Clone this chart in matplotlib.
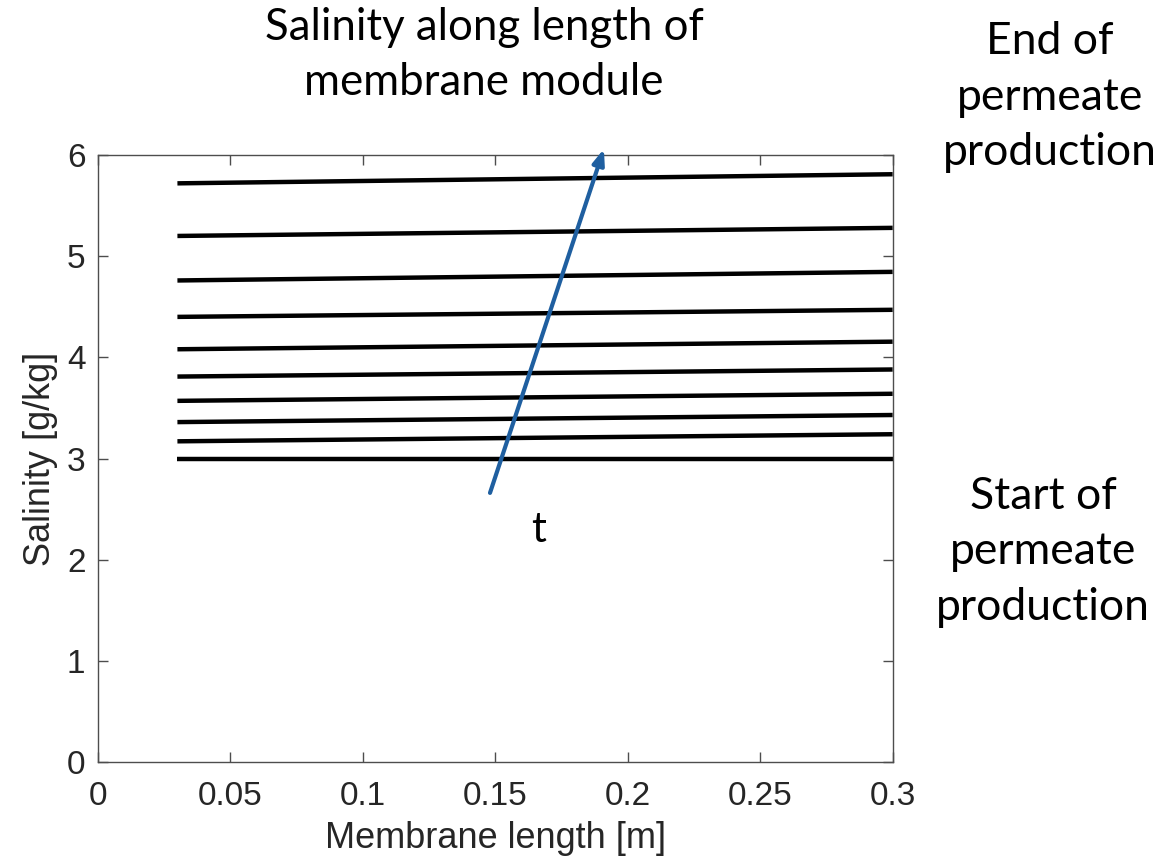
import matplotlib
matplotlib.use("Agg")
import matplotlib.pyplot as plt

# Data: salinity at start (x=0.03) and end (x=0.3) of each line
x_positions = [0.03, 0.3]
sal_start = [3.00, 3.17, 3.36, 3.57, 3.81, 4.08, 4.40, 4.76, 5.20, 5.72]
sal_end   = [3.00, 3.24, 3.43, 3.64, 3.88, 4.155, 4.47, 4.845, 5.28, 5.81]
xticks = [0, 0.05, 0.1, 0.15, 0.2, 0.25, 0.3]
xtick_labels = ["0", "0.05", "0.1", "0.15", "0.2", "0.25", "0.3"]
yticks = [0, 1, 2, 3, 4, 5, 6]
arrow_tail = (0.148, 2.66)
arrow_head = (0.191, 6.06)

fig = plt.figure(figsize=(11.73, 8.67), dpi=100)
ax = fig.add_axes([0.0835, 0.1211, 0.6775, 0.7001])

for s0, s1 in zip(sal_start, sal_end):
    ax.plot(x_positions, [s0, s1], color="black", lw=3.2, solid_capstyle="butt")

ax.set_xlim(0, 0.3)
ax.set_ylim(0, 6)
ax.set_xticks(xticks)
ax.set_xticklabels(xtick_labels)
ax.set_yticks(yticks)
axcol = "#4d4d4d"
for sp in ax.spines.values():
    sp.set_color(axcol)
    sp.set_linewidth(1.0)
ax.tick_params(direction="in", top=True, right=True, length=7, width=1.0,
               colors=axcol, labelcolor="#262626", labelsize=24)
ax.tick_params(axis="x", pad=14)
ax.tick_params(axis="y", pad=9)
for lab in ax.get_xticklabels() + ax.get_yticklabels():
    lab.set_family("Liberation Sans")
ax.set_xlabel("Membrane length [m]", fontsize=26, family="Liberation Sans",
              color="#262626", labelpad=6)
ax.set_ylabel("Salinity [g/kg]", fontsize=26, family="Liberation Sans",
              color="#262626", labelpad=6)

ax.annotate("", xy=arrow_head, xytext=arrow_tail, xycoords="data",
            arrowprops=dict(arrowstyle="-|>,head_length=0.9,head_width=0.35",
                            color="#1f5fa0", lw=3, shrinkA=0, shrinkB=0),
            annotation_clip=False)
ax.text(0.1665, 2.29, "t", fontsize=30, family="Lato", ha="center", va="center")

fig.text(484 / 1173, 1 - 55 / 867, "Salinity along length of\nmembrane module",
         fontsize=31.5, family="Lato", ha="center", va="center", linespacing=1.42)
fig.text(1050 / 1173, 1 - 97 / 867, "End of\npermeate\nproduction",
         fontsize=32, family="Lato", ha="center", va="center", linespacing=1.44)
fig.text(1043 / 1173, 1 - 552 / 867, "Start of\npermeate\nproduction",
         fontsize=32, family="Lato", ha="center", va="center", linespacing=1.44)

fig.savefig("out.png", dpi=100, facecolor="white")
